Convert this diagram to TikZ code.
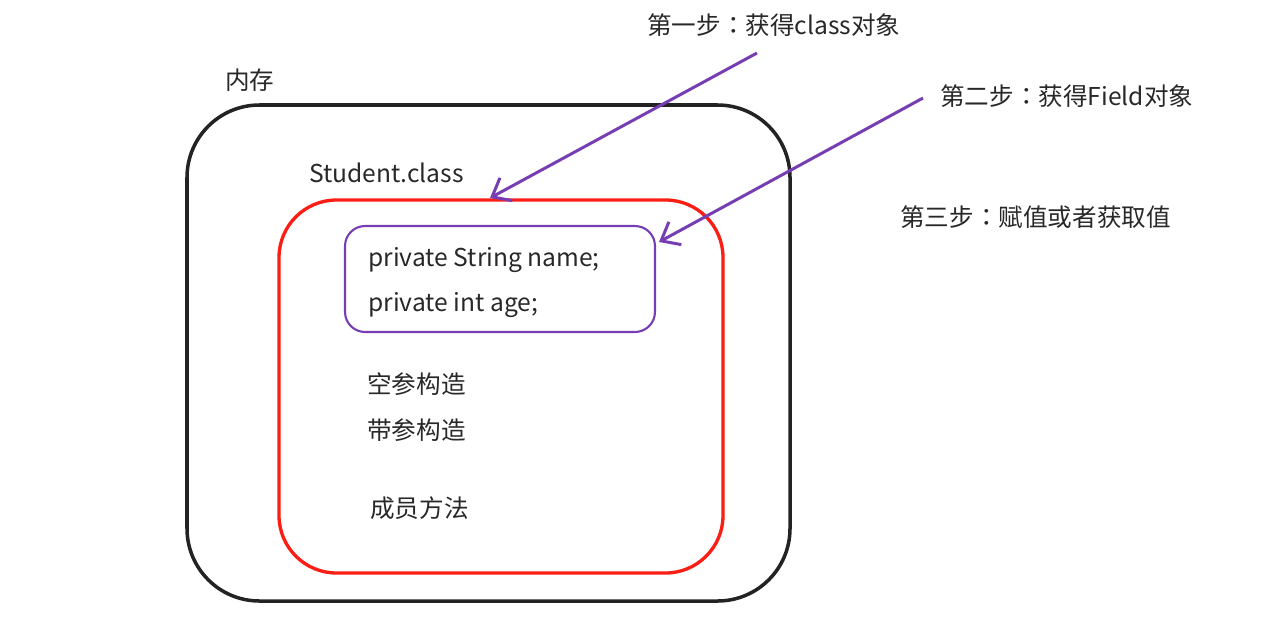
\documentclass[tikz,border=0pt]{standalone}
\usepackage{fontspec}
\setmainfont{Noto Sans CJK SC}
\newfontfamily\tcfont{Noto Sans CJK TC}
\newcommand{\fcolon}{{\tcfont ：}}
\usetikzlibrary{arrows.meta}
\definecolor{pur}{RGB}{118,62,178}
\definecolor{redc}{RGB}{250,30,20}
\definecolor{blk}{RGB}{35,35,35}
\definecolor{txt}{RGB}{40,40,40}
\tikzset{
  lbl/.style={inner sep=0pt, anchor=west, text=txt, font=\fontsize{14}{16}\selectfont},
  arr/.style={draw=pur, line width=1.7pt, -{Straight Barb[length=3.2mm,width=5.2mm,line width=1.7pt]}},
}
\begin{document}
\begin{tikzpicture}[x=0.02cm,y=-0.02cm]
\useasboundingbox (0,0) rectangle (1280,626);
% memory box
\draw[blk, line width=2pt, rounded corners=1.45cm] (187,105) rectangle (790,601);
% class box
\draw[redc, line width=1.9pt, rounded corners=1.15cm] (279,200) rectangle (723,573);
\coordinate (classtop) at (490,198);
% field box
\node[draw=pur, line width=1.2pt, rounded corners=0.4cm, minimum width=6.2cm, minimum height=2.12cm, inner sep=0pt] (field) at (500,279) {};
\coordinate (fieldtip) at (659,242);

\node[lbl] (mem) at (225,80) {内存};
\node[lbl] (sc) at (309,173) {Student.class};
\node[lbl] (f1) at (368,260) {private String name;};
\node[lbl] (f2) at (368,305) {private int age;};
\node[lbl] (c1) at (367,384) {空参构造};
\node[lbl] (c2) at (367,430) {带参构造};
\node[lbl] (m1) at (370,508) {成员方法};

\node[lbl] (s1) at (647,25) {第一步\fcolon 获得class对象};
\node[lbl] (s2) at (940,96) {第二步\fcolon 获得Field对象};
\node[lbl] (s3) at (900,217) {第三步\fcolon 赋值或者获取值};

\coordinate (a1) at (757,53);
\coordinate (a2) at (923,98);
\draw[arr] (a1) -- (classtop);
\draw[arr] (a2) -- (fieldtip);
\end{tikzpicture}
\end{document}
